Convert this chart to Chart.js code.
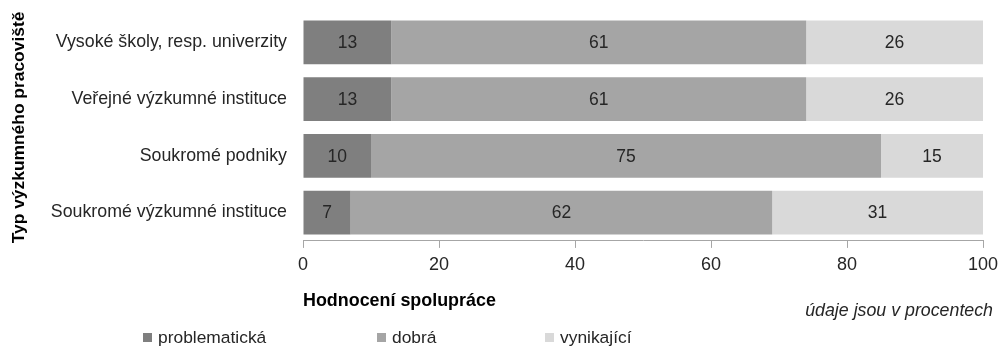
<!DOCTYPE html>
<html><head><meta charset="utf-8">
<script src="https://cdn.jsdelivr.net/npm/chart.js@4"></script>
<style>html,body{margin:0;padding:0;background:#fff}#wrap{width:998px;height:347px;position:relative}</style>
</head><body><div id="wrap"><canvas id="c" width="998" height="347"></canvas></div>
<script>
const categories = ['Vysoké školy, resp. univerzity','Veřejné výzkumné instituce','Soukromé podniky','Soukromé výzkumné instituce'];
const problematicka = [13, 13, 10, 7];
const dobra = [61, 61, 75, 62];
const vynikajici = [26, 26, 15, 31];
const seriesNames = ['problematická','dobrá','vynikající'];
const xTicks = [0,20,40,60,80,100];
const yTitle = 'Typ výzkumného pracoviště';
const xTitle = 'Hodnocení spolupráce';
const note = 'údaje jsou v procentech';

const FF = '"Liberation Sans","Arial",sans-serif';
const colors = ['#7f7f7f','#a5a5a5','#d9d9d9'];

const labelPlugin = {
  id:'labels',
  afterDatasetsDraw(chart){
    const ctx = chart.ctx;
    ctx.save();
    ctx.font = '17.5px '+FF;
    ctx.fillStyle = '#262626';
    ctx.textAlign='center'; ctx.textBaseline='middle';
    chart.data.datasets.forEach((ds,di)=>{
      const meta = chart.getDatasetMeta(di);
      meta.data.forEach((el,i)=>{
        const x = (el.x + el.base)/2;
        ctx.fillText(String(ds.data[i]), x, el.y+1);
      });
    });
    ctx.restore();
  },
  afterDraw(chart){
    const ctx = chart.ctx;
    ctx.save();
    ctx.font = 'italic 17.8px '+FF;
    ctx.fillStyle = '#262626';
    ctx.textAlign='right'; ctx.textBaseline='middle';
    ctx.fillText(note, 993, 311);
    const lx = [143, 377, 545];
    ctx.font = '17.4px '+FF;
    ctx.textAlign='left';
    chart.data.datasets.forEach((ds,di)=>{
      ctx.fillStyle = ds.backgroundColor;
      ctx.fillRect(lx[di], 333, 9, 9);
      ctx.fillStyle = '#262626';
      ctx.fillText(ds.label, lx[di]+15, 338);
    });
    ctx.restore();
  }
};

new Chart(document.getElementById('c'), {
  type:'bar',
  data:{
    labels: categories,
    datasets:[
      {label:seriesNames[0], data:problematicka, backgroundColor:colors[0]},
      {label:seriesNames[1], data:dobra, backgroundColor:colors[1]},
      {label:seriesNames[2], data:vynikajici, backgroundColor:colors[2]}
    ]
  },
  options:{
    indexAxis:'y',
    responsive:false,
    animation:false,
    maintainAspectRatio:false,
    layout:{padding:{left:9, right:15, top:14, bottom:35}},
    plugins:{legend:{display:false}, tooltip:{enabled:false}},
    datasets:{bar:{categoryPercentage:1, barPercentage:0.77, borderWidth:0}},
    scales:{
      x:{
        stacked:true, min:0, max:100,
        afterBuildTicks(s){ s.ticks = xTicks.map(v=>({value:v})); },
        afterFit(s){ s.paddingLeft = 0; s.paddingRight = 0; },
        grid:{drawOnChartArea:false, drawTicks:true, tickLength:7, color:'#a6a6a6'},
        border:{display:true, color:'#a6a6a6'},
        ticks:{font:{family:FF, size:18}, color:'#262626', padding:6, maxRotation:0},
        title:{display:true, text:xTitle, align:'start', font:{family:FF, size:17.9, weight:'bold'}, color:'#000', padding:{top:9,bottom:0}}
      },
      y:{
        stacked:true,
        afterFit(s){ s.width = 294; s.paddingTop = 0; s.paddingBottom = 0; },
        grid:{display:false, drawTicks:false},
        border:{display:false},
        ticks:{font:{family:FF, size:17.8}, color:'#262626', padding:16},
        title:{display:true, text:yTitle, font:{family:FF, size:17.4, weight:'bold'}, color:'#000', padding:{top:0,bottom:0}}
      }
    }
  },
  plugins:[labelPlugin]
});
</script></body></html>
